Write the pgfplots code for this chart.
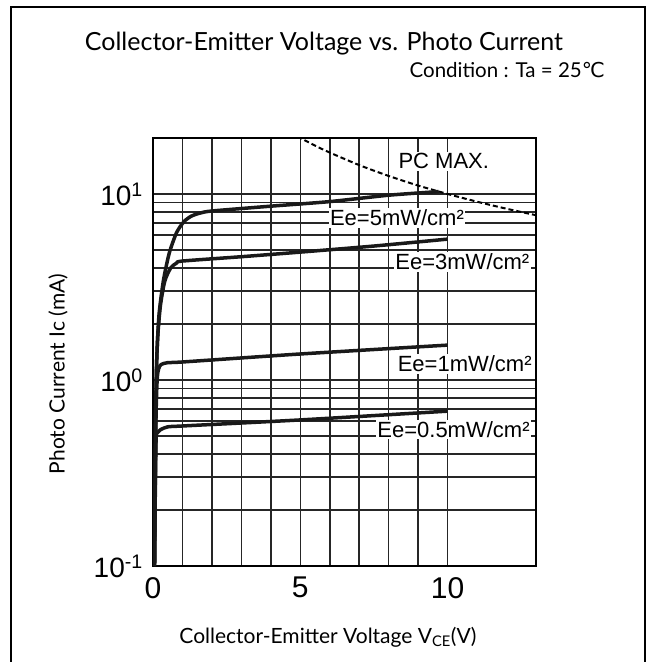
\documentclass[border=0pt]{standalone}
\usepackage{pgfplots}
\pgfplotsset{compat=1.18}
\usepackage{fontspec}
\setmainfont{Lato}
\newfontfamily\arial{Liberation Sans}
\newfontfamily\dejavu{DejaVu Sans}
\begin{document}
\begin{tikzpicture}
\path[use as bounding box] (0pt,0pt) rectangle (651pt,662pt);
\draw[line width=2pt] (11pt,0pt) -- (11pt,655pt) -- (645pt,655pt) -- (645pt,0pt);
\node[anchor=base,inner sep=0,font=\fontsize{25}{28}\selectfont] at (324pt,611pt) {Collector-Emitter Voltage vs. Photo Current};
\node[anchor=base east,inner sep=0,font=\fontsize{20.5}{24}\selectfont] at (605pt,584pt) {Condition : Ta = 25{\dejavu ℃}};
\node[rotate=90,inner sep=0,font=\fontsize{21}{24}\selectfont] at (58pt,288pt) {Photo Current Ic (mA)};
\node[anchor=base,inner sep=0,font=\fontsize{21}{24}\selectfont] at (328pt,19pt) {Collector-Emitter Voltage V\textsubscript{CE}(V)};

\begin{semilogyaxis}[at={(153pt,96pt)},anchor=south west,scale only axis,
  width=383pt,height=428pt,
  xmin=0,xmax=13,ymin=0.1,ymax=20,
  xtick={0,5,10},minor x tick num=4,
  ytick={0.1,1,10},yticklabels={10\textsuperscript{-1},10\textsuperscript{0},10\textsuperscript{1}},
  grid=both,
  major grid style={black!85,line width=1.6pt},
  minor grid style={black!85,line width=1.6pt},
  major tick length=0pt,minor tick length=0pt,
  axis line style={black,line width=2pt},
  /pgf/number format/assume math mode=true,
  xticklabel style={font=\fontsize{30}{32}\arial,inner sep=0pt,anchor=north,yshift=-11pt},
  yticklabel style={font=\fontsize{28}{30}\arial,inner sep=0pt,anchor=east,xshift=-10pt},
  clip=true]

% PC MAX (dashed)
\addplot[black,line width=2pt,dash pattern=on 5pt off 3pt,smooth] coordinates {
(4.9,20.4) (5.5,18.2) (6,16.7) (7,14.3) (8,12.5) (9,11.1) (10,10.0) (11,9.09) (12,8.33) (13,7.69)
};
% Ee=5mW/cm2
\addplot[black!90,line width=3.5pt,smooth,tension=0.4] coordinates {
(0.05,0.1) (0.08,0.5) (0.12,1.2) (0.2,2.2) (0.35,3.4) (0.55,4.8) (0.8,6.2) (1.05,7.1) (1.3,7.6) (1.6,7.9) (2,8.1) (4,8.6) (6,9.1) (8,9.85) (9.7,10.3)
};
% Ee=3mW/cm2
\addplot[black!90,line width=3.5pt,smooth,tension=0.4] coordinates {
(0.05,0.1) (0.1,0.8) (0.15,1.6) (0.25,2.5) (0.4,3.4) (0.6,4.0) (0.8,4.25) (1,4.36) (3,4.6) (5,4.87) (7.5,5.25) (10,5.72)
};
% Ee=1mW/cm2
\addplot[black!90,line width=3.5pt,smooth,tension=0.4] coordinates {
(0.05,0.1) (0.1,0.6) (0.15,1.05) (0.25,1.2) (0.5,1.24) (1,1.25) (5,1.38) (10,1.54)
};
% Ee=0.5mW/cm2
\addplot[black!90,line width=3.5pt,smooth,tension=0.4] coordinates {
(0.05,0.1) (0.1,0.45) (0.15,0.52) (0.25,0.54) (0.5,0.56) (1,0.566) (5,0.61) (10,0.68)
};

\begin{scope}[every node/.style={fill=white,inner sep=1.5pt,font=\fontsize{22}{24}\arial}]
\node at (axis cs:9.87,15.0) {PC MAX.};
\node at (axis cs:8.28,7.43) {Ee=5mW/cm²};
\node at (axis cs:10.5,4.31) {Ee=3mW/cm²};
\node at (axis cs:10.58,1.22) {Ee=1mW/cm²};
\node at (axis cs:10.2,0.54) {Ee=0.5mW/cm²};
\end{scope}
\end{semilogyaxis}
\end{tikzpicture}
\end{document}
